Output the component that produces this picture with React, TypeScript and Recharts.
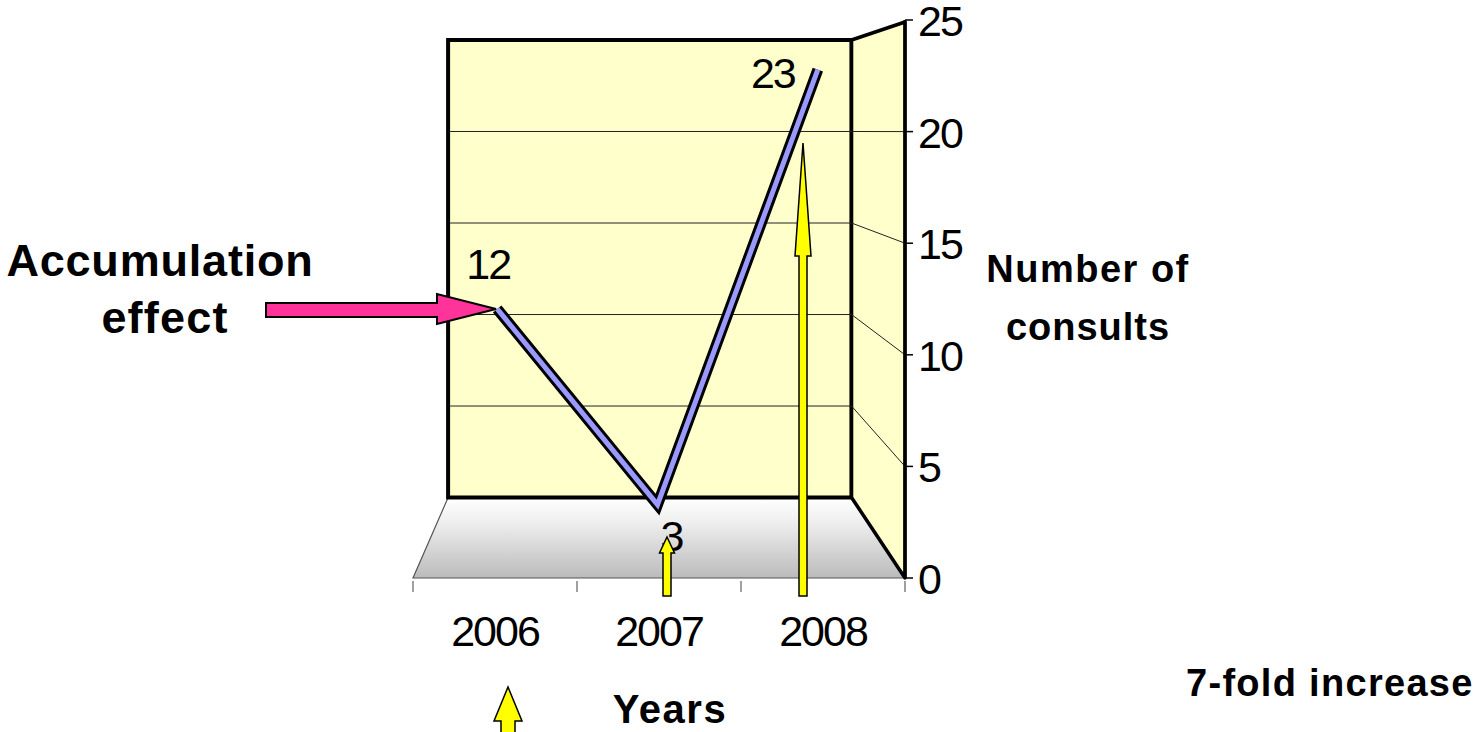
import React from "react";
import { ComposedChart, Line, XAxis, YAxis } from "recharts";

// chart values
const years = ["2006", "2007", "2008"];
const consults = [12, 3, 23];
const yTicks = [0, 5, 10, 15, 20, 25];

const data = years.map((year, i) => ({ year, consults: consults[i] }));

// page + front plane of the 3D box
const W = 1483;
const H = 732;
const PLOT = { left: 413, top: 20, right: 905, bottom: 578 };
const Y_MAX = 25;
const AXIS_W = 60;
const AXIS_H = 60;

// perspective: back wall is a scaled copy of the front plane toward a vanishing point
const VP = { x: 608, y: 131 };
const BACK = 0.82;

// the line ribbon sits a little behind the front plane
const LINE_DOMAIN: [number, number] = [-0.37, 25.28];
const LINE_PAD = { left: 4, right: 7 };

const FONT = '"Liberation Sans", Arial, Helvetica, sans-serif';
const WALL = "#FFFFCC";
const RIBBON = "#9999FF";
const YELLOW = "#FFFF00";
const PINK = "#FF3399";

// data label offsets from each point (Excel pushes them around in 3D)
const LABEL_OFFSET = [
  { dx: -9, dy: -30 },
  { dx: 14, dy: 46 },
  { dx: -45, dy: 18 },
];

const frontY = (v: number) => PLOT.bottom - (v / Y_MAX) * (PLOT.bottom - PLOT.top);
const proj = (x: number, y: number, k = BACK) => [VP.x + k * (x - VP.x), VP.y + k * (y - VP.y)];
const pts = (list: number[][]) => list.map((p) => p.join(",")).join(" ");

const Box = () => {
  const { left, top, right, bottom } = PLOT;
  const tl = proj(left, top);
  const tr = proj(right, top);
  const bl = proj(left, bottom);
  const br = proj(right, bottom);
  const band = (right - left) / years.length;

  return (
    <svg width={W} height={H} style={{ position: "absolute", left: 0, top: 0 }}>
      <defs>
        <linearGradient id="floor" x1="0" y1="0" x2="0" y2="1">
          <stop offset="0" stopColor="#FFFFFF" />
          <stop offset="0.3" stopColor="#EFEFEF" />
          <stop offset="1" stopColor="#BBBBBB" />
        </linearGradient>
      </defs>
      {/* floor */}
      <polygon
        points={pts([bl, br, [right, bottom], [left, bottom]])}
        fill="url(#floor)"
        stroke="#555"
        strokeWidth={1.2}
      />
      {/* back wall */}
      <polygon points={pts([tl, tr, br, bl])} fill={WALL} stroke="#000" strokeWidth={4} />
      {/* right side wall */}
      <polygon
        points={pts([tr, [right, top + 2], [right, bottom], br])}
        fill={WALL}
        stroke="#000"
        strokeWidth={3.5}
        strokeLinejoin="round"
      />
      {/* gridlines on back and side wall */}
      {yTicks
        .filter((v) => v > 0 && v < Y_MAX)
        .map((v) => {
          const a = proj(left, frontY(v));
          const b = proj(right, frontY(v));
          return (
            <g key={v} stroke="#222" strokeWidth={1}>
              <line x1={a[0] + 2} y1={a[1]} x2={b[0]} y2={b[1]} />
              <line x1={b[0]} y1={b[1]} x2={right} y2={frontY(v)} />
            </g>
          );
        })}
      {/* category boundary ticks on the floor edge */}
      {Array.from({ length: years.length + 1 }, (_, i) => (
        <line
          key={i}
          x1={left + i * band}
          x2={left + i * band}
          y1={bottom + 3}
          y2={bottom + 14}
          stroke="#808080"
          strokeWidth={1.5}
        />
      ))}
    </svg>
  );
};

const arrowUp = (cx: number, tipY: number, headY: number, headW: number, shaftW: number, baseY: number) =>
  pts([
    [cx, tipY],
    [cx + headW / 2, headY],
    [cx + shaftW / 2, headY],
    [cx + shaftW / 2, baseY],
    [cx - shaftW / 2, baseY],
    [cx - shaftW / 2, headY],
    [cx - headW / 2, headY],
  ]);

const Notes = () => {
  const bold = { fontFamily: FONT, fontWeight: 700, fill: "#000" } as const;
  return (
    <svg width={W} height={H} style={{ position: "absolute", left: 0, top: 0, pointerEvents: "none" }}>
      {/* pink arrow to the 2006 point */}
      <polygon
        points={pts([
          [266, 303],
          [437, 303],
          [437, 294],
          [496, 309],
          [437, 324],
          [437, 317],
          [266, 317],
        ])}
        fill={PINK}
        stroke="#000"
        strokeWidth={2}
        strokeLinejoin="miter"
      />
      {/* yellow arrows */}
      <polygon points={arrowUp(803, 143, 256, 16, 8, 596)} fill={YELLOW} stroke="#000" strokeWidth={1.5} />
      <polygon points={arrowUp(667, 537, 553, 15, 8, 596)} fill={YELLOW} stroke="#000" strokeWidth={1.5} />
      <polygon points={arrowUp(508, 687, 721, 28, 14, 740)} fill={YELLOW} stroke="#000" strokeWidth={1.5} />

      <text x={160} y={276} textAnchor="middle" fontSize={45} letterSpacing={0.8} {...bold}>
        Accumulation
      </text>
      <text x={165} y={333} textAnchor="middle" fontSize={45} letterSpacing={1.2} {...bold}>
        effect
      </text>
      <text x={1088} y={282} textAnchor="middle" fontSize={38} letterSpacing={1.5} {...bold}>
        Number of
      </text>
      <text x={1088} y={340} textAnchor="middle" fontSize={38} letterSpacing={1} {...bold}>
        consults
      </text>
      <text x={670} y={723} textAnchor="middle" fontSize={40} letterSpacing={1.5} {...bold}>
        Years
      </text>
      <text x={1186} y={696} fontSize={38} letterSpacing={1.3} {...bold}>
        7-fold increase
      </text>
    </svg>
  );
};

const YearTick = ({ x, payload }: any) => (
  <text x={x} y={PLOT.bottom + 68} textAnchor="middle" fontFamily={FONT} fontSize={43} letterSpacing={-2} fill="#000">
    {payload.value}
  </text>
);

const ValueTick = ({ y, payload }: any) => (
  <text x={PLOT.right + 13} y={y + 16} fontFamily={FONT} fontSize={43} letterSpacing={-2} fill="#000">
    {payload.value}
  </text>
);

const PointLabel = ({ x, y, index, value }: any) => {
  const off = LABEL_OFFSET[index] || { dx: 0, dy: -20 };
  return (
    <text
      x={x + off.dx}
      y={y + off.dy}
      textAnchor="middle"
      fontFamily={FONT}
      fontSize={43}
      letterSpacing={-2}
      fill="#000"
    >
      {value}
    </text>
  );
};

const App = () => (
  <div style={{ position: "absolute", left: 0, top: 0, width: W, height: H, background: "#fff" }}>
    <Box />
    <div style={{ position: "absolute", left: 0, top: 0 }}>
      <ComposedChart
        width={W}
        height={H}
        data={data}
        margin={{
          top: PLOT.top,
          left: PLOT.left,
          right: W - PLOT.right - AXIS_W,
          bottom: H - PLOT.bottom - AXIS_H,
        }}
      >
        <XAxis
          xAxisId="front"
          dataKey="year"
          scale="band"
          height={AXIS_H}
          axisLine={false}
          tickLine={false}
          interval={0}
          tick={<YearTick />}
        />
        <XAxis xAxisId="line" dataKey="year" scale="band" hide padding={LINE_PAD} />
        <YAxis
          yAxisId="front"
          orientation="right"
          width={AXIS_W}
          domain={[0, Y_MAX]}
          ticks={yTicks}
          interval={0}
          tickSize={8}
          axisLine={{ stroke: "#000", strokeWidth: 3 }}
          tickLine={{ stroke: "#000", strokeWidth: 1.5 }}
          tick={<ValueTick />}
        />
        <YAxis yAxisId="line" hide domain={LINE_DOMAIN} allowDataOverflow />
        {/* front-plane series: carries the value axis, drawn without ink */}
        <Line
          xAxisId="front"
          yAxisId="front"
          dataKey="consults"
          stroke="none"
          dot={false}
          activeDot={false}
          legendType="none"
          isAnimationActive={false}
        />
        <Line
          xAxisId="line"
          yAxisId="line"
          dataKey="consults"
          stroke="#000"
          strokeWidth={11}
          strokeLinejoin="miter"
          strokeMiterlimit={10}
          dot={false}
          activeDot={false}
          isAnimationActive={false}
        />
        <Line
          xAxisId="line"
          yAxisId="line"
          dataKey="consults"
          stroke={RIBBON}
          strokeWidth={5}
          strokeLinejoin="miter"
          strokeMiterlimit={10}
          dot={false}
          activeDot={false}
          isAnimationActive={false}
          label={<PointLabel />}
        />
      </ComposedChart>
    </div>
    <Notes />
  </div>
);

export default App;
